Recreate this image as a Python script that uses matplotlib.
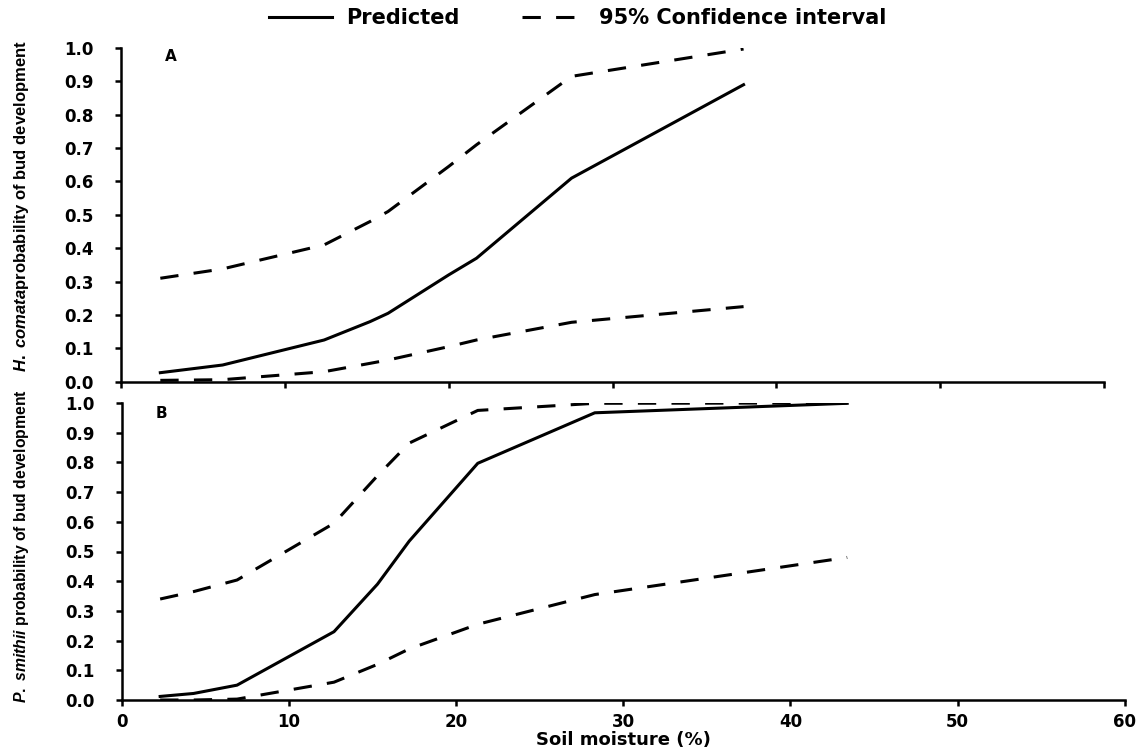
import matplotlib
matplotlib.use("Agg")
import matplotlib.pyplot as plt
from matplotlib.lines import Line2D

# Panel A: H. comata
moist_a = [2.4, 6.2, 12.4, 15.2, 16.3, 20.0, 21.7, 27.5, 38.0]
pred_a = [0.027, 0.05, 0.125, 0.18, 0.205, 0.32, 0.37, 0.61, 0.89]
upper_a = [0.31, 0.338, 0.41, 0.48, 0.51, 0.645, 0.71, 0.915, 0.997]
lower_a = [0.004, 0.006, 0.03, 0.055, 0.065, 0.105, 0.125, 0.178, 0.225]

# Panel B: P. smithii
moist_b = [2.3, 4.3, 6.9, 12.7, 15.3, 17.2, 21.3, 28.3, 43.4]
pred_b = [0.012, 0.022, 0.05, 0.23, 0.39, 0.535, 0.797, 0.967, 0.999]
upper_b = [0.34, 0.365, 0.404, 0.595, 0.755, 0.865, 0.975, 0.999, 1.0]
lower_b = [0.0, 0.0, 0.003, 0.06, 0.12, 0.172, 0.255, 0.355, 0.48]

x_ticks = [0, 10, 20, 30, 40, 50, 60]
y_ticks = [0.0, 0.1, 0.2, 0.3, 0.4, 0.5, 0.6, 0.7, 0.8, 0.9, 1.0]

plt.rcParams["font.family"] = "DejaVu Sans"
plt.rcParams["font.weight"] = "bold"
plt.rcParams["mathtext.fontset"] = "custom"
plt.rcParams["mathtext.it"] = "Liberation Sans:italic:bold"
plt.rcParams["mathtext.rm"] = "Liberation Sans:bold"

W, H = 1143, 751
fig = plt.figure(figsize=(W / 100, H / 100), dpi=100)
ax_a = fig.add_axes([121 / W, 1 - 381.7 / H, 983 / W, 333.7 / H])
ax_b = fig.add_axes([121.7 / W, 1 - 700 / H, 1003 / W, 297 / H])

lw = 2.2
dash = (6.0, 5.0)


def style(ax, show_xlabels):
    ax.set_xlim(0, 60)
    ax.set_ylim(0, 1.0)
    ax.set_xticks(x_ticks)
    ax.set_yticks(y_ticks)
    ax.set_yticklabels([f"{v:.1f}" for v in y_ticks])
    for s in ["top", "right"]:
        ax.spines[s].set_visible(False)
    for s in ["left", "bottom"]:
        ax.spines[s].set_linewidth(1.8)
        ax.spines[s].set_color("black")
    ax.tick_params(axis="both", direction="out", length=4.5, width=1.8,
                   labelsize=12)
    ax.tick_params(axis="y", pad=15)
    ax.tick_params(axis="x", pad=5)
    if not show_xlabels:
        ax.tick_params(axis="x", labelbottom=False)
    for lab in ax.get_xticklabels() + ax.get_yticklabels():
        lab.set_fontweight("bold")


for ax, xs, p, u, l in [(ax_a, moist_a, pred_a, upper_a, lower_a),
                        (ax_b, moist_b, pred_b, upper_b, lower_b)]:
    ax.plot(xs, p, color="black", lw=lw, solid_joinstyle="round")
    ax.plot(xs, u, color="black", lw=lw, linestyle=(0, dash))
    ax.plot(xs, l, color="black", lw=lw, linestyle=(0, dash))

style(ax_a, False)
style(ax_b, True)

ax_a.text(0.051, 0.976, "A", transform=ax_a.transAxes, ha="center", va="center",
          fontsize=11, fontweight="bold")
ax_b.text(0.040, 0.966, "B", transform=ax_b.transAxes, ha="center", va="center",
          fontsize=11, fontweight="bold")

ax_b.set_xlabel("Soil moisture (%)", fontsize=13, fontweight="bold", labelpad=0)

fig.text(22 / W, 1 - 206 / H, r"$\mathit{H.\ comata}$probability of bud development",
         rotation=90, ha="center", va="center", fontsize=12,
         family="Liberation Sans", fontweight="bold")
fig.text(22 / W, 1 - 546 / H, r"$\mathit{P.\ smithii}$ probability of bud development",
         rotation=90, ha="center", va="center", fontsize=11.3,
         family="Liberation Sans", fontweight="bold")

handles = [Line2D([], [], color="black", lw=lw),
           Line2D([], [], color="black", lw=lw, linestyle=(0, dash))]
fig.legend(handles, ["Predicted", "95% Confidence interval"], loc="center",
           bbox_to_anchor=(578 / W, 1 - 18 / H), ncol=2, frameon=False,
           prop={"size": 15, "weight": "bold"}, handlelength=3.0,
           columnspacing=3.0, handletextpad=0.7)

fig.savefig("out.png", dpi=100)
